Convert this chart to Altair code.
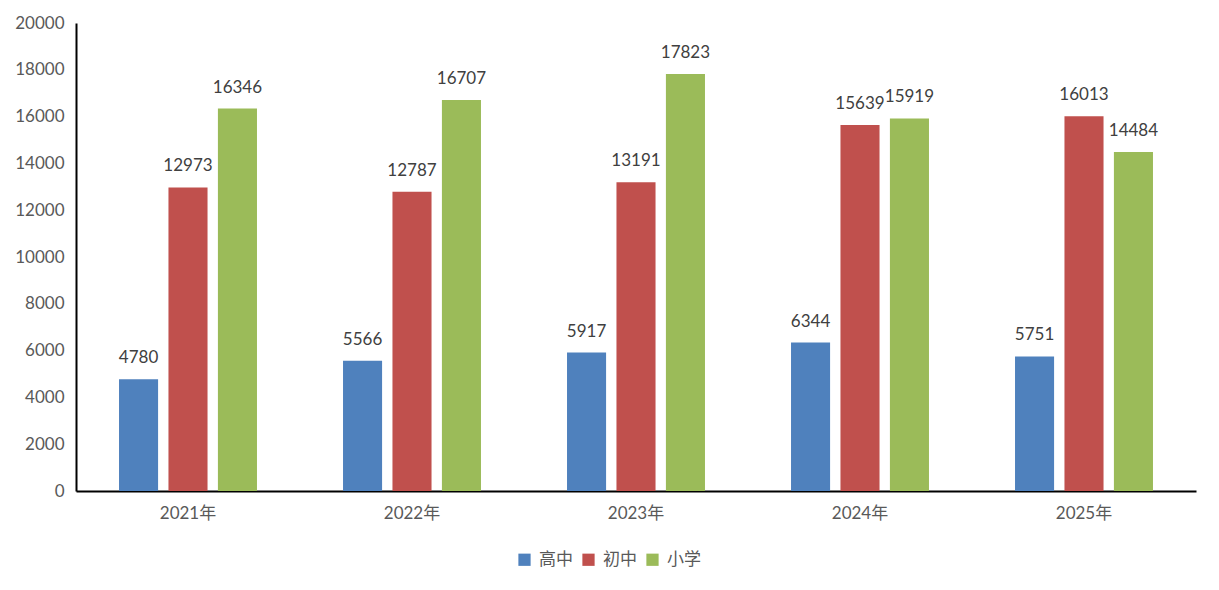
import altair as alt
import pandas as pd

years = ["2021年", "2022年", "2023年", "2024年", "2025年"]
series = ["高中", "初中", "小学"]
gaozhong = [4780, 5566, 5917, 6344, 5751]
chuzhong = [12973, 12787, 13191, 15639, 16013]
xiaoxue = [16346, 16707, 17823, 15919, 14484]
colors = ["#4F81BD", "#C0504D", "#9BBB59"]

rows = []
for i, y in enumerate(years):
    for s, vals in zip(series, [gaozhong, chuzhong, xiaoxue]):
        rows.append({"year": y, "series": s, "value": vals[i]})
df = pd.DataFrame(rows)

FONT = "Lato, Noto Sans CJK SC, sans-serif"
FS = 17

x = alt.X("year:N", sort=years, title=None,
          scale=alt.Scale(paddingInner=0, paddingOuter=0),
          axis=alt.Axis(labelAngle=0, labelFontSize=FS, labelColor="#595959",
                        labelFont=FONT, ticks=False, domainColor="black",
                        domainWidth=2, labelPadding=14))
xo = alt.XOffset("series:N", sort=series,
                 scale=alt.Scale(paddingInner=0.21, paddingOuter=0.87))
y = alt.Y("value:Q", title=None,
          scale=alt.Scale(domain=[0, 20000], nice=False),
          axis=alt.Axis(values=list(range(0, 20001, 2000)), grid=False, ticks=False,
                        format="d",
                        labelFontSize=FS, labelColor="#595959", labelFont=FONT,
                        domainColor="black", domainWidth=2, labelPadding=12))

bars = alt.Chart(df).mark_bar().encode(
    x=x, xOffset=xo, y=y,
    color=alt.Color("series:N", sort=series,
                    scale=alt.Scale(domain=series, range=colors),
                    legend=alt.Legend(title=None, orient="none", direction="horizontal",
                                      legendX=440, legendY=528, symbolType="square",
                                      symbolSize=150, symbolStrokeWidth=0,
                                      labelFontSize=FS, labelColor="#595959",
                                      labelFont=FONT, columnPadding=7, labelOffset=6)),
)

labels = alt.Chart(df).mark_text(baseline="alphabetic", dy=-16, fontSize=FS,
                                 color="#404040", font=FONT).encode(
    x=x, xOffset=xo, y=y, text=alt.Text("value:Q", format="d"))

chart = (bars + labels).properties(
    width=1120, height=468,
    autosize=alt.AutoSizeParams(type="none"),
    padding={"left": 68, "top": 15, "right": 15, "bottom": 80},
).configure_view(stroke=None)

chart.save("out.html", embed_options={"renderer": "svg", "actions": False})
